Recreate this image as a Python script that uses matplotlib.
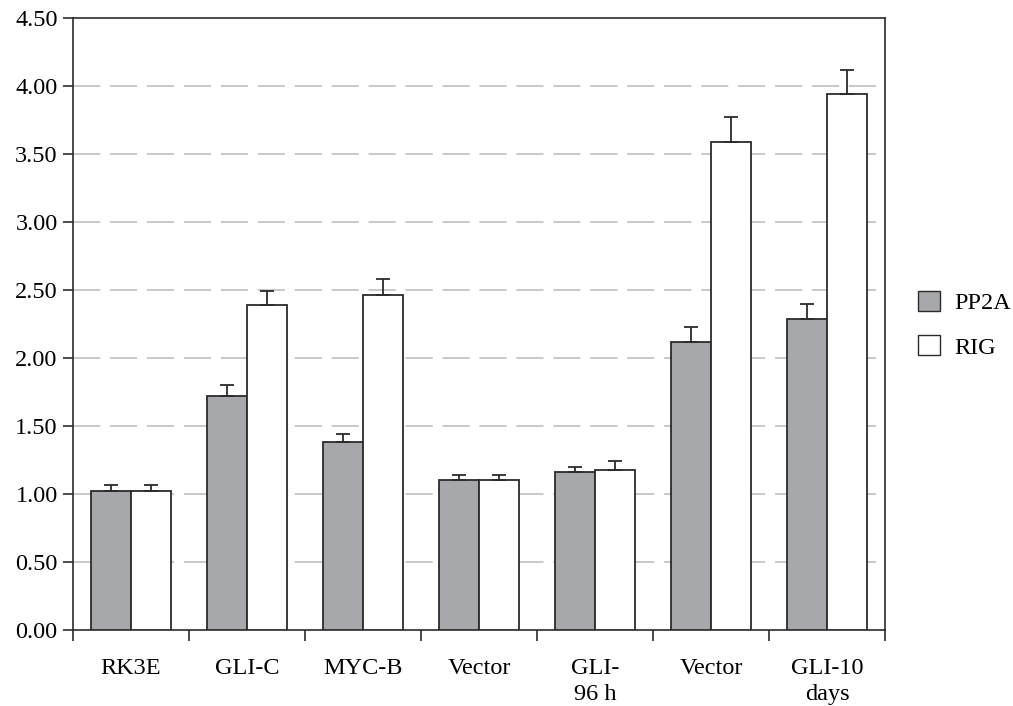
import numpy as np
import matplotlib.pyplot as plt
from matplotlib.patches import Patch

# group labels and bar data
groups = ['RK3E', 'GLI-C', 'MYC-B', 'Vector', 'GLI-\n96 h', 'Vector', 'GLI-10\ndays']
pp2a = [1.02, 1.72, 1.38, 1.10, 1.16, 2.12, 2.29]
pp2a_err = [0.05, 0.08, 0.06, 0.04, 0.04, 0.11, 0.11]
rig = [1.02, 2.39, 2.46, 1.10, 1.18, 3.59, 3.94]
rig_err = [0.05, 0.10, 0.12, 0.04, 0.06, 0.18, 0.18]
y_ticks = [0.0, 0.5, 1.0, 1.5, 2.0, 2.5, 3.0, 3.5, 4.0, 4.5]

plt.rcParams['font.family'] = ['Liberation Serif', 'DejaVu Serif']
plt.rcParams['font.size'] = 17.5

gray = '#a7a8ab'
edge = '#2b2b2b'

fig = plt.figure(figsize=(10.13, 7.06), dpi=100)
ax = fig.add_axes([0.072, 0.1076, 0.802, 0.8669])

x = np.arange(len(groups))
w = 0.345
ax.bar(x - w / 2, pp2a, w, color=gray, edgecolor=edge, linewidth=1.3, zorder=3)
ax.bar(x + w / 2, rig, w, color='white', edgecolor=edge, linewidth=1.3, zorder=3)
ax.errorbar(x - w / 2, pp2a, yerr=[np.zeros(len(pp2a)), pp2a_err], fmt='none',
            ecolor=edge, elinewidth=1.3, capsize=5, capthick=1.3, zorder=4)
ax.errorbar(x + w / 2, rig, yerr=[np.zeros(len(rig)), rig_err], fmt='none',
            ecolor=edge, elinewidth=1.3, capsize=5, capthick=1.3, zorder=4)

ax.set_xlim(-0.5, len(groups) - 0.5)
ax.set_ylim(0, 4.5)
ax.set_yticks(y_ticks)
ax.set_yticklabels(['%.2f' % v for v in y_ticks])

# ticks sit on the group boundaries, labels in the middle
ax.set_xticks(np.arange(len(groups) + 1) - 0.5)
ax.set_xticklabels([])
ax.set_xticks(x, minor=True)
ax.set_xticklabels(groups, minor=True, va='top', linespacing=1.35)
ax.tick_params(axis='x', which='minor', length=0, pad=20)
ax.tick_params(axis='x', which='major', length=8, width=1.2, color=edge, direction='out')
ax.tick_params(axis='y', length=7, width=1.2, color=edge, direction='out', pad=4)

for v in y_ticks[1:-1]:
    ax.axhline(v, color='#c8c9cb', linewidth=1.4, dashes=(14, 5), zorder=1)

for s in ax.spines.values():
    s.set_color(edge)
    s.set_linewidth(1.2)

handles = [Patch(facecolor=gray, edgecolor=edge, label='PP2A'),
           Patch(facecolor='white', edgecolor=edge, label='RIG')]
fig.legend(handles=handles, loc='center left', bbox_to_anchor=(0.906, 0.540),
           frameon=False, borderpad=0, borderaxespad=0, handlelength=0.9,
           handleheight=0.9, labelspacing=0.85, handletextpad=0.6)

fig.savefig('out.png', dpi=100)
